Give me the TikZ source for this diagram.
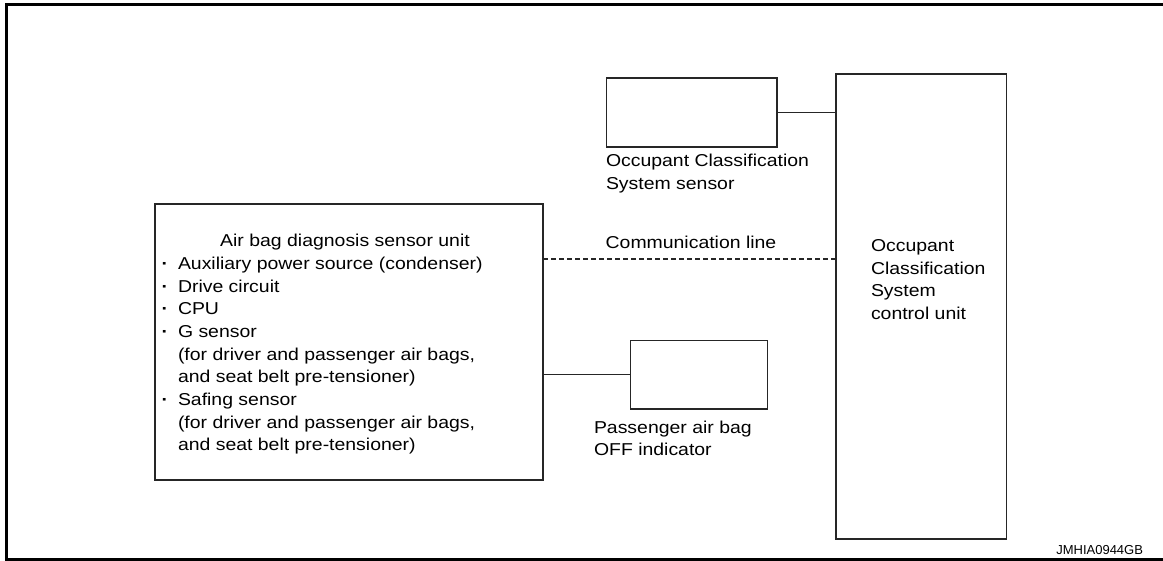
\documentclass[tikz,border=0pt]{standalone}
\usepackage{fontspec}
\setmainfont{Liberation Sans}[FakeStretch=1.13]
\newfontfamily\codefont{Liberation Sans}
\newcommand{\bul}{\makebox[16.5pt][l]{\bfseries ·}}
\newcommand{\ind}{\hspace*{16.5pt}}
\begin{document}
\begin{tikzpicture}[x=1pt,y=-1pt,
  frame/.style={line width=3pt,black,line join=miter},
  box/.style={draw=black!85,line width=1.3pt,rectangle,inner sep=0pt,outer sep=0pt},
  bigbox/.style={box,line width=1.6pt},
  wire/.style={draw=black!85,line width=1.3pt},
  commwire/.style={wire,dash pattern=on 5pt off 3pt},
  lbl/.style={inner sep=0pt,outer sep=0pt,font=\fontsize{17.2}{22.7}\selectfont},
  codelbl/.style={inner sep=0pt,outer sep=0pt,font=\codefont\fontsize{13}{15}\selectfont}
]
\useasboundingbox (0,0) rectangle (1163,561);
% frame
\draw[frame] (1163,4.6) -- (6.3,4.6) -- (6.3,559.3) -- (1163,559.3);

% boxes
\node[box,minimum width=388pt,minimum height=276pt] (adsu) at (349,342) {};
\node[box,minimum width=170.5pt,minimum height=69pt] (ocs) at (691.7,112.5) {};
\node[bigbox,minimum width=170.5pt,minimum height=465pt] (ocsu) at (921.2,306.5) {};
\node[box,minimum width=137pt,minimum height=68.3pt] (pai) at (699.2,374.8) {};

% connectors
\coordinate (comm) at (0,259);
\coordinate (paiy) at (0,374.8);
\draw[wire] (ocs.east) -- (ocsu.west |- ocs.east);
\draw[commwire] (adsu.east |- comm) -- (ocsu.west |- comm);
\draw[wire] (adsu.east |- paiy) -- (pai.west);

% texts (multi-line nodes: base anchor = last line's baseline)
\node[lbl,anchor=base] (title) at (345,246.7) {Air bag diagnosis sensor unit};
\node[lbl,anchor=base west,align=left] (list) at (161.5,451) {%
\bul Auxiliary power source (condenser)\\
\bul Drive circuit\\
\bul CPU\\
\bul G sensor\\
\ind(for driver and passenger air bags,\\
\ind and seat belt pre-tensioner)\\
\bul Safing sensor\\
\ind(for driver and passenger air bags,\\
\ind and seat belt pre-tensioner)};
\node[lbl,anchor=base west,align=left] (ocslbl) at (606,189.4) {Occupant Classification\\System sensor};
\node[lbl,anchor=base] (commlbl) at (691,249) {Communication line};
\node[lbl,anchor=base west,align=left] (ocsulbl) at (871,319.5) {Occupant\\Classification\\System\\control unit};
\node[lbl,anchor=base west,align=left] (pailbl) at (594,456) {Passenger air bag\\OFF indicator};
\node[codelbl,anchor=base east] (code) at (1143,554) {JMHIA0944GB};
\end{tikzpicture}
\end{document}
